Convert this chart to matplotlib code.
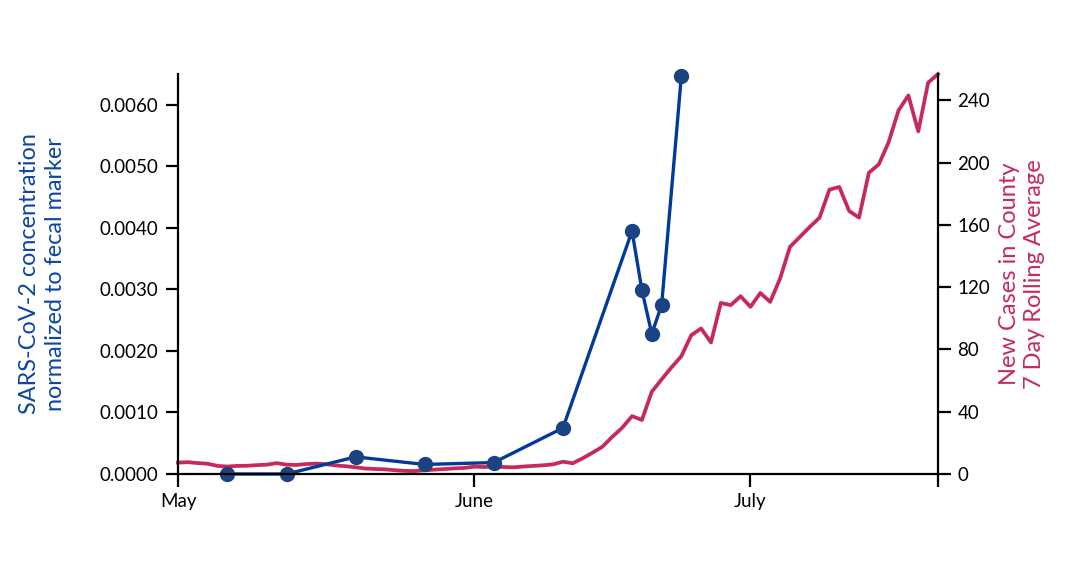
import matplotlib
matplotlib.use("Agg")
import matplotlib.pyplot as plt

# x values are days counted from the "May" tick
month_ticks = [0, 30, 58, 77]
month_labels = ["May", "June", "July", ""]

# wastewater samples (normalized SARS-CoV-2 concentration)
sample_days = [5, 11, 18, 25, 32, 39, 46, 47, 48, 49, 51]
sample_conc = [0.0, 0.0, 0.000278, 0.000155, 0.000186, 0.000748,
               0.003948, 0.00299, 0.002278, 0.002745, 0.00647]

# county cases, 7 day rolling average (one value per day)
case_days = list(range(78))
case_avg = [7.3, 7.6, 7.0, 6.6, 5.2, 4.8, 5.2, 5.3, 5.7, 6.0,
            7.0, 6.0, 5.8, 6.4, 6.7, 6.3, 5.5, 5.0, 4.3, 3.5,
            3.2, 3.0, 2.4, 2.0, 1.9, 2.4, 2.8, 3.2, 3.6, 3.9,
            4.7, 4.5, 4.8, 4.5, 4.3, 4.8, 5.2, 5.6, 6.2, 7.9,
            6.9, 10.1, 13.7, 17.5, 23.9, 29.7, 37.2, 34.7, 52.8, 60.8,
            68.5, 75.7, 89.2, 93.5, 84.5, 109.9, 108.5, 114.2, 107.4, 116.3,
            110.6, 125.6, 145.9, 152.3, 158.7, 164.7, 182.7, 184.4, 169.0, 164.7,
            193.6, 198.9, 213.2, 233.6, 243.2, 220.1, 251.4, 257.0]

BLUE_LINE = "#003a9b"
BLUE_DOT = "#1b4383"
BLUE_TEXT = "#0d45a3"
RED = "#c72a5a"

plt.rcParams["font.family"] = ["Lato", "DejaVu Sans"]

fig = plt.figure(figsize=(10.68, 5.62), dpi=100)
ax = fig.add_axes([178 / 1068, 1 - 474 / 562, 760 / 1068, 400 / 562])
ax2 = ax.twinx()

ax2.plot(case_days, case_avg, color=RED, linewidth=2.7, clip_on=False)
ax.plot(sample_days, sample_conc, color=BLUE_LINE, linewidth=2.4,
        marker="o", markersize=10, markerfacecolor=BLUE_DOT,
        markeredgecolor=BLUE_DOT, clip_on=False)

ax.set_zorder(2)
ax.patch.set_visible(False)

ax.set_xlim(0, 77)
ax.set_ylim(0, 0.0065)
ax2.set_ylim(0, 257)

ax.set_xticks(month_ticks)
ax.set_xticklabels(month_labels)
ax.set_yticks([0.0, 0.001, 0.002, 0.003, 0.004, 0.005, 0.006])
ax.set_yticklabels([f"{v:.4f}" for v in ax.get_yticks()])
ax2.set_yticks([0, 40, 80, 120, 160, 200, 240])

for a in (ax, ax2):
    a.spines["top"].set_visible(False)
    for s in a.spines.values():
        s.set_linewidth(1.6)
ax.spines["right"].set_visible(False)
ax2.spines["left"].set_visible(False)
ax2.spines["bottom"].set_visible(False)

ax.tick_params(axis="both", direction="out", length=9, width=1.6,
               labelsize=13.5, pad=5)
ax2.tick_params(axis="y", direction="out", length=9, width=1.6,
                labelsize=13.5, pad=5)

ax.set_ylabel("SARS-CoV-2 concentration\nnormalized to fecal marker",
              color=BLUE_TEXT, fontsize=16.8, labelpad=24, linespacing=1.3)
ax2.set_ylabel("New Cases in County\n7 Day Rolling Average",
               color=RED, fontsize=17, labelpad=6, linespacing=1.25)

fig.savefig("out.png", dpi=100)
